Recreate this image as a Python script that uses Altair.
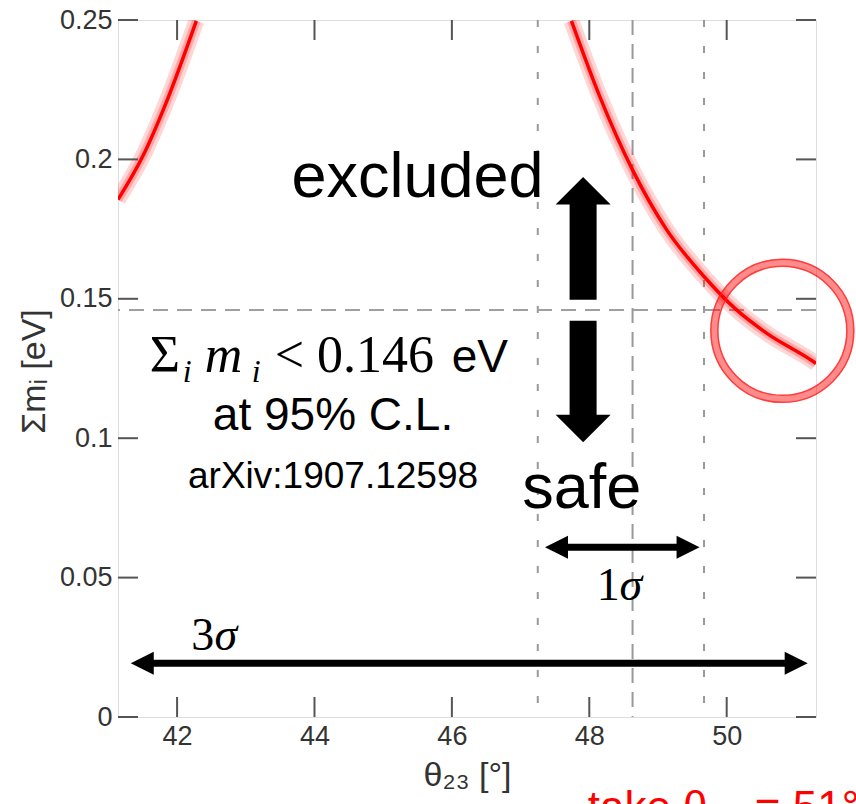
import altair as alt
import pandas as pd

# ---------------- data ----------------
left_theta = [41.14, 41.50, 41.84, 42.28]
left_sum = [0.1856, 0.2011, 0.2203, 0.2497]
right_theta = [47.74, 48.15, 48.64, 49.12, 49.67, 50.14, 50.58, 51.26, 51.30]
right_sum = [0.2497, 0.2227, 0.1957, 0.1750, 0.1580, 0.1461, 0.1377, 0.1275, 0.1268]

x_ticks = [42, 44, 46, 48, 50]
y_ticks = [0, 0.05, 0.1, 0.15, 0.2, 0.25]

dotted_theta = [47.25, 49.67]      # 1 sigma bounds
dashed_theta = [48.63]             # best fit
limit_sum = [0.146]                # cosmological bound

# arrows
v_arrow_x = [47.91, 47.91]
v_shaft_from = [0.1497, 0.1421]
v_shaft_to = [0.1850, 0.1070]
up_head = [(47.91, 0.1838)]
down_head = [(47.91, 0.1084)]
h_arrow_y = [0.0609, 0.01927]
h_shaft_from = [47.60, 41.60]
h_shaft_to = [49.36, 50.90]
left_heads = [(47.69, 0.0609), (41.66, 0.01927)]
right_heads = [(49.27, 0.0609), (50.844, 0.01927)]

circle_center = [(50.81, 0.1385)]

# text labels (text, theta, sum, size)
center_sans = [("excluded", 45.50, 0.1866, 63), ("safe", 47.89, 0.0750, 63),
               ("at 95% C.L.", 44.27, 0.1030, 46), ("arXiv:1907.12598", 44.27, 0.0822, 37)]
left_sans = [("eV", 45.997, 0.1238, 46)]
serif_upright = [("Σ", 41.601, 0.1238, 52), ("< 0.146", 43.421, 0.1238, 52),
                 ("1", 48.11, 0.0420, 46), ("3", 42.208, 0.02405, 46)]
serif_italic = [("i", 42.082, 0.1202, 32), ("m", 42.402, 0.1238, 52), ("i", 43.086, 0.1202, 32),
                ("σ", 48.44, 0.0420, 46), ("σ", 42.543, 0.02405, 46)]
red_note = [("take θ₂₃ = 51°", 47.977, -0.0375, 44)]

# ---------------- layout ----------------
W, H = 698, 697
TICK_LEN = 20
xs = alt.Scale(domain=[41.14, 51.30], nice=False, zero=False)
ys = alt.Scale(domain=[0, 0.25], nice=False, zero=False)

AX = alt.Axis(values=x_ticks, title="θ₂₃ [°]", grid=False, ticks=False, domain=False,
              labelFont="Liberation Sans", labelFontSize=27, labelColor="#333",
              labelPadding=6, labelFlush=False,
              titleFont="Liberation Sans", titleFontSize=34, titleColor="#333",
              titleFontWeight="normal", titleX=349, titleY=68,
              titleAlign="center", titleBaseline="alphabetic")
AY = alt.Axis(values=y_ticks, format="~g", title="Σmᵢ [eV]", grid=False, ticks=False,
              domain=False, labelFont="Liberation Sans", labelFontSize=27,
              labelColor="#333", labelPadding=6, labelFlush=False,
              titleFont="Liberation Sans", titleFontSize=34, titleColor="#333",
              titleFontWeight="normal", titleX=-84, titleY=351, titleAngle=-90,
              titleAlign="center", titleBaseline="middle")


def X(f="x"):
    return alt.X(f"{f}:Q", scale=xs, axis=AX)


def Y(f="y"):
    return alt.Y(f"{f}:Q", scale=ys, axis=AY)


curve = pd.DataFrame({
    "x": left_theta + right_theta,
    "y": left_sum + right_sum,
    "branch": ["L"] * len(left_theta) + ["R"] * len(right_theta),
})

layers = []

# reference lines
layers.append(alt.Chart(pd.DataFrame({"x": dotted_theta})).mark_rule(
    color="#999", strokeWidth=2, strokeDash=[7, 19]).encode(x=X()))
layers.append(alt.Chart(pd.DataFrame({"x": dashed_theta})).mark_rule(
    color="#999", strokeWidth=2, strokeDash=[15, 9]).encode(x=X()))
layers.append(alt.Chart(pd.DataFrame({"y": limit_sum})).mark_rule(
    color="#a0a0a0", strokeWidth=2, strokeDash=[15, 9]).encode(y=Y()))

# curve band + core
for sw, op in [(16, 0.16), (9, 0.22), (3.5, 1.0)]:
    layers.append(alt.Chart(curve).mark_line(
        color="#ff0000", strokeWidth=sw, opacity=op, interpolate="monotone", clip=True
    ).encode(x=X(), y=Y(), detail="branch:N", order="x:Q"))

# frame ticks (inward)
xt = pd.DataFrame({"x": x_ticks})
yt = pd.DataFrame({"y": y_ticks})
tick_style = dict(color="#555", strokeWidth=2)
layers.append(alt.Chart(xt).mark_rule(**tick_style).encode(
    x=X(), y=alt.value(H), y2=alt.value(H - TICK_LEN)))
layers.append(alt.Chart(xt).mark_rule(**tick_style).encode(
    x=X(), y=alt.value(0), y2=alt.value(TICK_LEN)))
layers.append(alt.Chart(yt).mark_rule(**tick_style).encode(
    y=Y(), x=alt.value(0), x2=alt.value(TICK_LEN)))
layers.append(alt.Chart(yt).mark_rule(**tick_style).encode(
    y=Y(), x=alt.value(W), x2=alt.value(W - TICK_LEN)))

# arrows: shafts
vdf = pd.DataFrame({"x": v_arrow_x, "y": v_shaft_from, "y2": v_shaft_to})
layers.append(alt.Chart(vdf).mark_rule(color="black", strokeWidth=27, strokeCap="butt").encode(
    x=X(), y=Y(), y2="y2:Q"))
hdf = pd.DataFrame({"y": h_arrow_y, "x": h_shaft_from, "x2": h_shaft_to})
layers.append(alt.Chart(hdf).mark_rule(color="black", strokeWidth=7, strokeCap="butt").encode(
    x=X(), x2="x2:Q", y=Y()))

# arrow heads
def heads(pts, shape, size):
    df = pd.DataFrame(pts, columns=["x", "y"])
    return alt.Chart(df).mark_point(shape=shape, size=size, filled=True, fill="black",
                                    strokeWidth=0, opacity=1).encode(x=X(), y=Y())

layers.append(heads(up_head, "M-1,0L1,0L0,-1Z", 3025))
layers.append(heads(down_head, "M-1,0L1,0L0,1Z", 3025))
layers.append(heads(left_heads, "M0,-0.5L0,0.5L-1,0Z", 2116))
layers.append(heads(right_heads, "M0,-0.5L0,0.5L1,0Z", 2116))

# highlight circle
cdf = pd.DataFrame(circle_center, columns=["x", "y"])
layers.append(alt.Chart(cdf).mark_point(shape="circle", size=136 ** 2, filled=False,
                                        stroke="#ff0000", strokeWidth=8, opacity=0.45).encode(x=X(), y=Y()))
for d in (129, 143):
    layers.append(alt.Chart(cdf).mark_point(shape="circle", size=d ** 2, filled=False,
                                            stroke="#ff2020", strokeWidth=1.5, opacity=0.75).encode(x=X(), y=Y()))

# texts
def texts(rows, font, align, style="normal", color="black"):
    df = pd.DataFrame(rows, columns=["t", "x", "y", "s"])
    return alt.Chart(df).mark_text(font=font, align=align, baseline="alphabetic",
                                   fontStyle=style, color=color).encode(
        x=X(), y=Y(), text="t:N", size=alt.Size("s:Q", scale=None, legend=None))

layers.append(texts(center_sans, "Liberation Sans", "center"))
layers.append(texts(left_sans, "Liberation Sans", "left"))
layers.append(texts(serif_upright, "Liberation Serif", "left"))
layers.append(texts(serif_italic, "Liberation Serif", "left", style="italic"))
layers.append(texts(red_note, "Liberation Sans", "left", color="#ff0000"))

chart = alt.layer(*layers).properties(
    width=W, height=H, autosize="none",
    padding={"left": 118, "top": 20, "right": 40, "bottom": 87},
).configure_view(stroke="#555", strokeWidth=2).configure(background="white")

chart.save("out.html", embed_options={"renderer": "svg", "actions": False})
